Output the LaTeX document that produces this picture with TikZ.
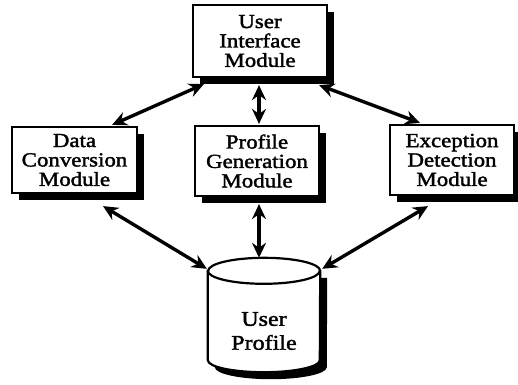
\documentclass[tikz,border=0pt]{standalone}
\usepackage{fontspec}
\setmainfont{Liberation Serif}[FakeStretch=1.15,FakeBold=1.8]
\usetikzlibrary{calc,arrows.meta,shadows}
\begin{document}
\begin{tikzpicture}[x=1bp,y=-1bp,
  modbox/.style={draw, line width=2.2bp, fill=white, align=center, inner sep=0pt,
    font=\fontsize{20}{19.5}\selectfont,
    drop shadow={shadow xshift=7bp, shadow yshift=-7bp, fill=black, opacity=1}},
  biarrow/.style={line width=3.4bp, {Stealth[length=15bp,width=14bp,inset=5bp]}-{Stealth[length=15bp,width=14bp,inset=5bp]}},
  cylline/.style={line width=2.2bp}]
\useasboundingbox (0,0) rectangle (518,384);
% modules
\node[modbox, minimum width=134bp, minimum height=72bp] (ui) at (260,41) {User\\Interface\\Module};
\node[modbox, minimum width=125bp, minimum height=66bp] (dc) at (74.5,160) {Data\\Conversion\\Module};
\node[modbox, minimum width=124bp, minimum height=70bp] (pg) at (257,161) {Profile\\Generation\\Module};
\node[modbox, minimum width=124bp, minimum height=70bp] (ed) at (452,160) {Exception\\Detection\\Module};
% cylinder
\node[minimum width=112bp, minimum height=114bp, inner sep=0pt] (cyl) at (264,315) {};
\coordinate (tl) at ($(cyl.north west)+(0,13)$);
\coordinate (tr) at ($(cyl.north east)+(0,13)$);
\coordinate (bl) at ($(cyl.south west)+(0,-12)$);
\coordinate (br) at ($(cyl.south east)+(0,-12)$);
\fill[black] ($(tl)+(7,7)$) -- ($(bl)+(7,7)$) arc(180:0:56 and 12) -- ($(tr)+(7,7)$) -- cycle;
\filldraw[cylline, fill=white] (tl) -- (bl) arc(180:0:56 and 12) -- (tr) arc(0:-180:56 and 13) -- cycle;
\draw[cylline] (tl) arc(180:0:56 and 13);
\node[align=center, font=\fontsize{21}{24}\selectfont] (cyltxt) at ($(cyl.center)+(0,16)$) {User\\Profile};
% connectors
\draw[biarrow] ($(dc.north)+(37.5,-1)$) -- ($(ui.south west)+(12,6)$);
\draw[biarrow] ($(ed.north)+(-32,-1)$) -- ($(ui.south east)+(-9,7)$);
\draw[biarrow] ($(pg.north)+(2,-1)$) -- ($(pg.north |- ui.south)+(2,7)$);
\draw[biarrow] ($(dc.south)+(28.5,12)$) -- ($(cyl.north west)+(-1,11)$);
\draw[biarrow] ($(ed.south)+(-24,10)$) -- ($(cyl.north east)+(2,11)$);
\draw[biarrow] ($(pg.south)+(2,7)$) -- ($(cyl.north)+(-5,0)$);
\end{tikzpicture}
\end{document}
